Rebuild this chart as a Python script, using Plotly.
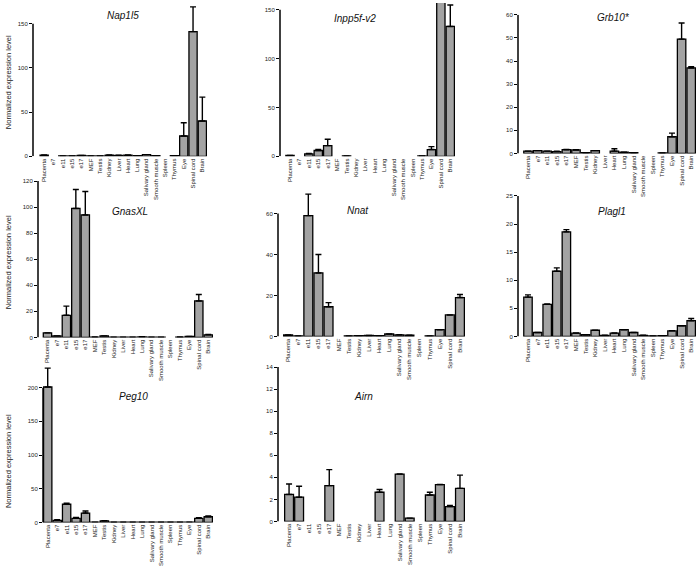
import plotly.graph_objects as go

W, H = 696, 569

categories = ["Placenta", "e7", "e11", "e15", "e17", "MEF", "Testis", "Kidney", "Liver",
              "Heart", "Lung", "Salivary gland", "Smooth muscle", "Spleen", "Thymus",
              "Eye", "Spinal cord", "Brain"]

genes = ["Nap1l5", "Inpp5f-v2", "Grb10*", "GnasXL", "Nnat", "Plagl1", "Peg10", "Airn"]

nap1l5_val = [1.5, None, 0.5, 0.5, 1.0, 0.5, 0.5, 1.5, 1.2, 1.5, 0.8, 2.0, 0.8, None, 0.8, 23, 141, 40]
nap1l5_err = [0, 0, 0, 0, 0, 0, 0, 0, 0, 0, 0, 0, 0, 0, 0, 15, 28, 27]

inpp5f_val = [1.0, None, 2.5, 6.0, 11.0, None, 0.5, None, None, None, None, None, None, None, 0.5, 7.0, 170, 133]
inpp5f_err = [0, 0, 0.5, 1.0, 6.5, 0, 0, 0, 0, 0, 0, 0, 0, 0, 0, 3.0, 10, 22]

grb10_val = [1.0, 1.2, 1.0, 0.8, 1.6, 1.5, 0.3, 1.2, None, 1.0, 0.5, 0.3, None, None, 0.2, 7.2, 49.5, 37]
grb10_err = [0, 0, 0, 0.2, 0.1, 0.1, 0, 0, 0, 1.0, 0, 0, 0, 0, 0, 1.6, 7.0, 0.5]

gnasxl_val = [3.5, 1.2, 17, 99, 94, 0.3, 1.2, 0.2, 0.2, 0.2, 0.5, 0.2, 0.2, None, 0.3, 0.8, 28, 2.0]
gnasxl_err = [0, 0, 7, 14.5, 18, 0, 0, 0, 0, 0, 0, 0, 0, 0, 0, 0, 5, 0.3]

nnat_val = [0.7, 0.3, 59, 31, 14.5, None, 0.3, 0.4, 0.5, 0.4, 1.2, 0.8, 0.6, None, 0.3, 3.3, 10.5, 19]
nnat_err = [0, 0, 10.5, 9, 2, 0, 0, 0, 0, 0, 0, 0, 0, 0, 0, 0, 0, 1.5]

plagl1_val = [7.0, 0.7, 5.7, 11.6, 18.6, 0.6, 0.3, 1.1, 0.2, 0.6, 1.2, 0.7, 0.2, 0.1, 0.15, 1.0, 1.9, 2.8]
plagl1_err = [0.4, 0, 0.1, 0.6, 0.4, 0, 0, 0, 0, 0, 0, 0, 0, 0, 0, 0, 0, 0.4]

peg10_val = [201, 3, 27, 6, 14, 0.5, 2.5, 0.3, 0.3, 0.3, 0.3, 0.3, 0.3, 0.3, 0.3, 0.5, 6, 8.5]
peg10_err = [28, 1, 1.5, 1.5, 3, 0, 0, 0, 0, 0, 0, 0, 0, 0, 0, 0, 1, 1]

airn_val = [2.45, 2.2, None, None, 3.25, None, None, None, None, 2.65, None, 4.3, 0.3, None, 2.4, 3.35, 1.35, 3.0]
airn_err = [0.95, 1.0, 0, 0, 1.45, 0, 0, 0, 0, 0.25, 0, 0, 0, 0, 0.25, 0, 0.1, 1.2]

values = [nap1l5_val, inpp5f_val, grb10_val, gnasxl_val, nnat_val, plagl1_val, peg10_val, airn_val]
errors = [nap1l5_err, inpp5f_err, grb10_err, gnasxl_err, nnat_err, plagl1_err, peg10_err, airn_err]

# layout per panel in pixels: x0, x1, y_zero, y_top, y range max, dtick, axis line top, x range left
panels = [
    (33, 207, 155, 3, 170, 50, 150, -1.2),
    (280, 455, 155, 0, 157, 50, 150, -1.06),
    (518, 696, 152, 12, 60, 10, 60, -1.04),
    (38, 213, 338, 180, 120, 20, 120, -1.0),
    (278, 465, 337, 188, 72, 20, 60, -1.0),
    (518, 696, 337, 195, 25, 5, 25, -1.04),
    (43, 213, 525, 367, 232, 50, 200, -0.5),
    (278, 465, 524, 368, 14, 2, 14, -1.1),
]
title_px = [(123, 13), (355, 16), (613, 15), (130, 211), (358, 210), (612, 211), (133, 398), (363, 398)]

FONT = "Liberation Sans, Arial, sans-serif"
fig = go.Figure()
layout = dict(width=W, height=H, margin=dict(l=0, r=0, t=0, b=0),
              paper_bgcolor="white", plot_bgcolor="white", showlegend=False,
              bargap=0.12, font=dict(family=FONT, color="#111"))
shapes = []
annotations = []

for i, (g, vals, errs, p) in enumerate(zip(genes, values, errors, panels)):
    x0, x1, yz, yt, ymax, dt, ltop, xl = p
    n = i + 1
    xa = "x" if n == 1 else f"x{n}"
    ya = "y" if n == 1 else f"y{n}"
    fig.add_trace(go.Bar(
        x=categories, y=vals, xaxis=xa, yaxis=ya,
        marker=dict(color="#a3a3a3", line=dict(color="black", width=1.3)),
        error_y=dict(type="data", symmetric=False, array=errs,
                     arrayminus=[0] * len(errs), color="black", thickness=1.4, width=3),
        cliponaxis=True,
    ))
    layout[f"xaxis{'' if n == 1 else n}"] = dict(
        domain=[x0 / W, x1 / W], anchor=ya, type="category",
        range=[xl, 17.5], showline=False, showgrid=False, zeroline=False,
        tickangle=-90, tickfont=dict(size=6, family=FONT, color="#222"),
        ticks="", ticklen=0, fixedrange=True,
    )
    layout[f"yaxis{'' if n == 1 else n}"] = dict(
        domain=[1 - yz / H, 1 - yt / H], anchor=xa, range=[0, ymax],
        tickvals=list(range(0, ltop + 1, dt)),
        showline=False, showgrid=False, zeroline=False,
        ticks="outside", ticklen=3, tickwidth=1, tickcolor="black",
        tickfont=dict(size=6, family=FONT, color="#222"),
    )
    shapes.append(dict(type="line", xref=f"{xa} domain", yref=ya,
                       x0=0, x1=0, y0=0, y1=ltop,
                       line=dict(color="black", width=1.5)))
    tx, ty = title_px[i]
    annotations.append(dict(text=f"<i>{g}</i>", xref="paper", yref="paper",
                            x=tx / W, y=1 - ty / H, showarrow=False,
                            font=dict(size=10, family=FONT, color="#111"),
                            xanchor="center", yanchor="middle"))

for cy in (80, 262, 463):
    annotations.append(dict(text="Normalized expression level", xref="paper", yref="paper",
                            x=8 / W, y=1 - cy / H, textangle=-90, showarrow=False,
                            font=dict(size=7.5, family=FONT, color="#222"),
                            xanchor="center", yanchor="middle"))

layout["shapes"] = shapes
layout["annotations"] = annotations
fig.update_layout(**layout)
fig.write_html("out.html", config={"displayModeBar": False},
               post_script="document.body.style.margin='0';document.body.style.padding='0';")
